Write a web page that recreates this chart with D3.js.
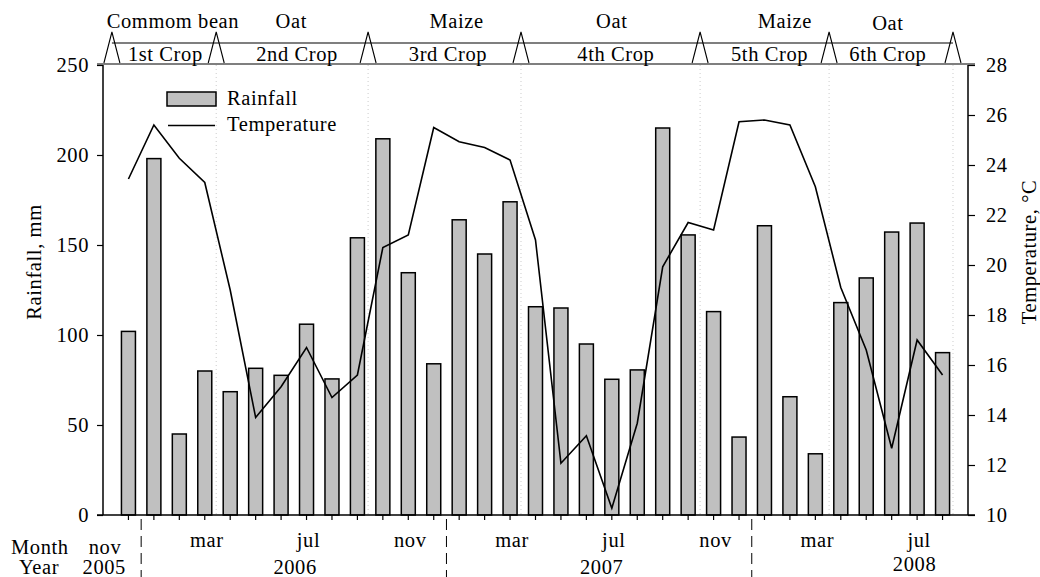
<!DOCTYPE html>
<html><head><meta charset="utf-8">
<script src="https://cdn.jsdelivr.net/npm/d3@7"></script>
<style>body{margin:0;background:#fff}text{font-family:"Liberation Serif","Times New Roman",serif;fill:#000;letter-spacing:0.6px}</style>
</head><body><svg id="c" width="1040" height="577"></svg>
<script>
// Month index: 0 = nov 2005 (axis start), bars at 1..33 (dec 2005 .. aug 2008)
const monthIdx = d3.range(1, 34);
const rainfall = [102,198,45,80,68.5,81.5,77.6,106,75.6,154,209,134.6,84,164,145,174,115.7,115,95,75.4,80.6,215,155.6,113,43.3,160.7,65.7,34,118,131.7,157.2,162.2,90.2];
const temperature = [23.44,25.6,24.27,23.3,19.0,13.9,15.13,16.7,14.7,15.6,20.7,21.2,25.5,24.93,24.7,24.2,21.0,12.07,13.17,10.27,13.67,19.93,21.7,21.4,25.73,25.8,25.6,23.13,19.1,16.6,12.67,17.0,15.6];
const monthLabels = [{i:0,t:"nov"},{i:4,t:"mar"},{i:8,t:"jul"},{i:12,t:"nov"},{i:16,t:"mar"},{i:20,t:"jul"},{i:24,t:"nov"},{i:28,t:"mar"},{i:32,t:"jul"}];
const yearLabels = [{i:0.05,t:"2005"},{i:7.55,t:"2006"},{i:19.6,t:"2007"},{i:31.9,t:"2008"}];
const yearBreaks = [1.5,13.5,25.5];
const cropBounds = [0.35,4.45,10.42,16.43,23.47,28.54,33.41];
const cropNames = [{i:2.75,t:"Commom bean"},{i:7.4,t:"Oat"},{i:13.9,t:"Maize"},{i:20,t:"Oat"},{i:26.8,t:"Maize"},{i:30.85,t:"Oat"}];
const cropNums = [{i:2.45,t:"1st Crop"},{i:7.63,t:"2nd Crop"},{i:13.56,t:"3rd Crop"},{i:20.16,t:"4th Crop"},{i:26.2,t:"5th Crop"},{i:30.85,t:"6th Crop"}];
const rainTicks = [0,50,100,150,200,250];
const tempTicks = [10,12,14,16,18,20,22,24,26,28];

const svg = d3.select("#c");
const L=103, R=968, T=65, B=515;
const x = d3.scaleLinear().domain([0,34]).range([L,R]);
const yR = d3.scaleLinear().domain([0,250]).range([B,T]);
const yT = d3.scaleLinear().domain([10,28]).range([B,T]);
const bw = 14;
const FF = '"Liberation Serif","Times New Roman",serif';
const fs = "20.5px";

// dotted crop boundary lines
svg.append("g").selectAll("line").data(cropBounds.slice(1)).join("line")
  .attr("x1",d=>x(d)).attr("x2",d=>x(d)).attr("y1",T).attr("y2",B)
  .attr("stroke","#ccc").attr("stroke-width",1).attr("stroke-dasharray","1,3");

// bars
svg.append("g").selectAll("rect").data(rainfall).join("rect")
  .attr("x",(d,k)=>x(monthIdx[k])-bw/2).attr("width",bw)
  .attr("y",d=>yR(d)).attr("height",d=>B-yR(d))
  .attr("fill","#c0c0c0").attr("stroke","#000").attr("stroke-width",1.5);

// temperature line
svg.append("path").datum(temperature)
  .attr("d",d3.line().x((d,k)=>x(monthIdx[k])).y(d=>yT(d)))
  .attr("fill","none").attr("stroke","#000").attr("stroke-width",1.6).attr("stroke-linejoin","miter");

// axes
const ax = svg.append("g").attr("transform",`translate(${L},0)`)
  .call(d3.axisLeft(yR).tickValues(rainTicks).tickSize(6).tickPadding(8));
const axr = svg.append("g").attr("transform",`translate(${R},0)`)
  .call(d3.axisRight(yT).tickValues(tempTicks).tickSize(7).tickPadding(11));
[ax,axr].forEach(a=>{a.select(".domain").remove();
  a.attr("font-family",FF).attr("font-size",fs);
  a.selectAll("text").style("font-family",FF).style("font-size",fs);
  a.selectAll("line").attr("stroke-width",1.2);});
svg.append("line").attr("x1",L).attr("x2",L).attr("y1",T).attr("y2",B).attr("stroke","#000").attr("stroke-width",1.5);
svg.append("line").attr("x1",R).attr("x2",R).attr("y1",T).attr("y2",B).attr("stroke","#000").attr("stroke-width",1.5);
svg.append("line").attr("x1",L-6).attr("x2",R+7).attr("y1",B).attr("y2",B).attr("stroke","#000").attr("stroke-width",1.5);
svg.append("line").attr("x1",L-6).attr("x2",R+7).attr("y1",T-1).attr("y2",T-1).attr("stroke","#000").attr("stroke-width",1.2);

// bottom month ticks
svg.append("g").selectAll("line").data(monthIdx).join("line")
  .attr("x1",d=>x(d)).attr("x2",d=>x(d)).attr("y1",B).attr("y2",B+5)
  .attr("stroke","#000").attr("stroke-width",1.2);
// year break dashed lines
svg.append("g").selectAll("line").data(yearBreaks).join("line")
  .attr("x1",d=>x(d)).attr("x2",d=>x(d)).attr("y1",B+4).attr("y2",577)
  .attr("stroke","#000").attr("stroke-width",1).attr("stroke-dasharray","11,6");

svg.append("g").selectAll("text").data(monthLabels).join("text")
  .attr("x",d=>x(d.i)+2).attr("y",(d,k)=>k===0?554:547).attr("text-anchor","middle")
  .style("font-size",fs).text(d=>d.t);
svg.append("g").selectAll("text").data(yearLabels).join("text")
  .attr("x",d=>x(d.i)).attr("y",(d,k)=>k===3?571:574).attr("text-anchor","middle")
  .style("font-size",fs).text(d=>d.t);
svg.append("text").attr("x",11).attr("y",554).style("font-size",fs).text("Month");
svg.append("text").attr("x",19).attr("y",574).style("font-size",fs).text("Year");

// crop band
svg.append("line").attr("x1",x(cropBounds[0])).attr("x2",x(cropBounds[cropBounds.length-1]))
  .attr("y1",43).attr("y2",43).attr("stroke","#000").attr("stroke-width",1.2);
svg.append("g").selectAll("path").data(cropBounds).join("path")
  .attr("d",d=>`M${x(d)-8},63L${x(d)},32L${x(d)+8},63`)
  .attr("fill","none").attr("stroke","#000").attr("stroke-width",1.1);
svg.append("g").selectAll("text").data(cropNames).join("text")
  .attr("x",d=>x(d.i)).attr("y",(d,k)=>k===5?30:28).attr("text-anchor","middle")
  .style("font-size",fs).text(d=>d.t);
svg.append("g").selectAll("text").data(cropNums).join("text")
  .attr("x",d=>x(d.i)).attr("y",61).attr("text-anchor","middle")
  .style("font-size",fs).text(d=>d.t);

// axis titles
svg.append("text").attr("transform","translate(41,262) rotate(-90)").attr("text-anchor","middle")
  .style("font-size",fs).text("Rainfall, mm");
svg.append("text").attr("transform","translate(1036,252) rotate(-90)").attr("text-anchor","middle")
  .style("font-size",fs).text("Temperature, °C");

// legend
svg.append("rect").attr("x",167).attr("y",92).attr("width",49).attr("height",14)
  .attr("fill","#c0c0c0").attr("stroke","#000").attr("stroke-width",1.5);
svg.append("line").attr("x1",168).attr("x2",215).attr("y1",125.5).attr("y2",125.5).attr("stroke","#000").attr("stroke-width",1.6);
svg.append("text").attr("x",227).attr("y",105).style("font-size",fs).text("Rainfall");
svg.append("text").attr("x",227).attr("y",131).style("font-size",fs).text("Temperature");
</script></body></html>
